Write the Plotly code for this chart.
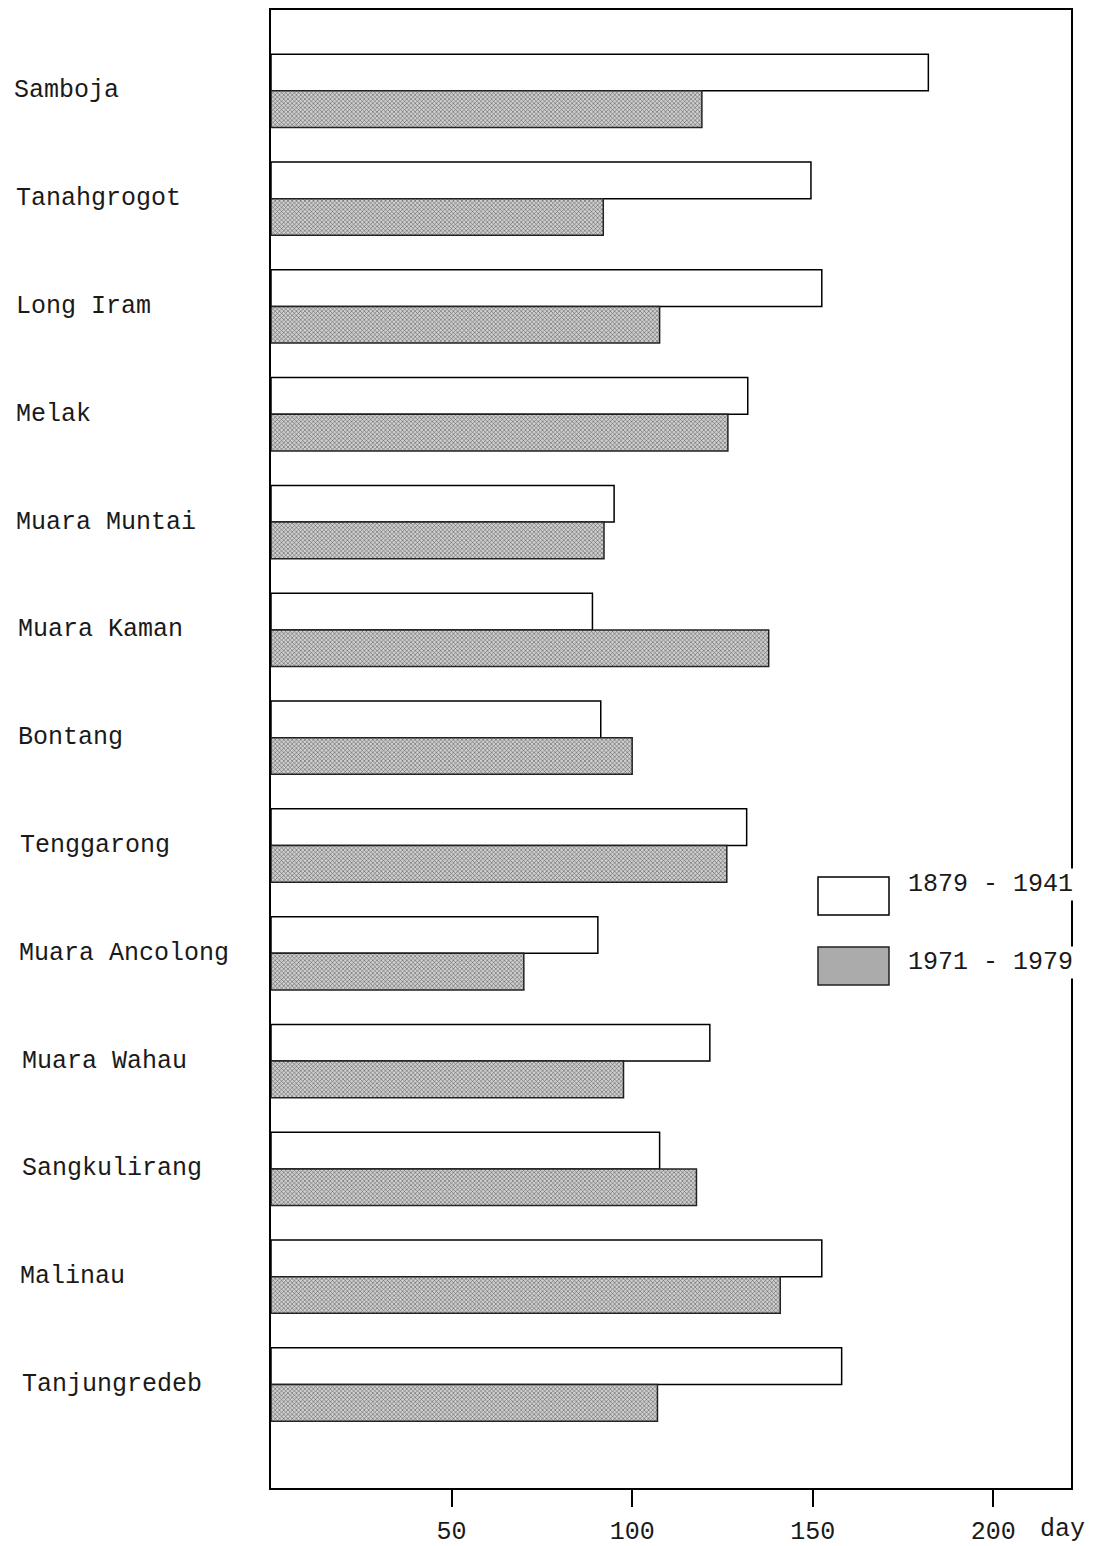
import plotly.graph_objects as go

stations = ["Samboja", "Tanahgrogot", "Long Iram", "Melak", "Muara Muntai",
            "Muara Kaman", "Bontang", "Tenggarong", "Muara Ancolong",
            "Muara Wahau", "Sangkulirang", "Malinau", "Tanjungredeb"]
days_1879_1941 = [182, 149.5, 152.5, 132, 95, 89, 91.3, 131.7, 90.5, 121.5, 107.6, 152.5, 158]
days_1971_1979 = [119.3, 92, 107.6, 126.5, 92.2, 137.8, 100, 126.2, 70, 97.6, 117.8, 141, 107]
series_names = ["1879 - 1941", "1971 - 1979"]
tick_values = [50, 100, 150, 200]
x_unit = "day"

W, H = 1119, 1546
L, R, T, B = 271, 1071, 10, 1488  # plot frame in screen pixels
FONT = "Liberation Mono"
TXT = "#1a1a1a"

def px(x):
    return (x - L) / (R - L)

def py(y):
    return (B - y) / (B - T)

fig = go.Figure()
fig.add_trace(go.Bar(
    y=stations, x=days_1879_1941, orientation="h", name=series_names[0],
    marker=dict(color="white", line=dict(color="black", width=1.5)),
    showlegend=False,
))
fig.add_trace(go.Bar(
    y=stations, x=days_1971_1979, orientation="h", name=series_names[1],
    marker=dict(color="#b4b4b4", line=dict(color="#222", width=1.5),
                pattern=dict(shape="x", size=3, solidity=0.3,
                             fgcolor="#4a4a4a", bgcolor="#cfcfcf", fillmode="replace")),
    showlegend=False,
))

label_x = [12, 14, 14, 14, 14, 16, 16, 18, 17, 20, 20, 18, 20]
annotations = []
for s, lx in zip(stations, label_x):
    annotations.append(dict(
        x=px(lx), xref="paper", y=s, yref="y", text=s, showarrow=False,
        xanchor="left", yanchor="middle", font=dict(family=FONT, size=25, color=TXT),
    ))
annotations.append(dict(
    x=px(1038), xref="paper", y=py(1529), yref="paper", text=x_unit, showarrow=False,
    xanchor="left", yanchor="middle", font=dict(family=FONT, size=25, color=TXT),
))

# legend boxes
shapes = [
    dict(type="rect", xref="paper", yref="paper", x0=px(818), x1=px(889),
         y0=py(915), y1=py(877), line=dict(color="black", width=1.5), fillcolor="white"),
    dict(type="rect", xref="paper", yref="paper", x0=px(818), x1=px(889),
         y0=py(985), y1=py(947), line=dict(color="#222", width=1.5), fillcolor="#ababab"),
]
for name, yc in zip(series_names, [885, 962]):
    annotations.append(dict(
        x=px(906), xref="paper", y=py(yc), yref="paper", text=name, showarrow=False,
        xanchor="left", yanchor="middle", bgcolor="white",
        font=dict(family=FONT, size=25, color=TXT),
    ))

fig.update_layout(
    width=W, height=H,
    margin=dict(l=L, r=W - R, t=T, b=H - B, pad=0, autoexpand=False),
    paper_bgcolor="white", plot_bgcolor="white",
    barmode="group", bargap=0.32, bargroupgap=0,
    annotations=annotations, shapes=shapes,
    font=dict(family=FONT, size=25, color=TXT),
)
fig.update_xaxes(
    range=[0, 221.5], tickvals=tick_values, ticks="outside", ticklen=17,
    tickwidth=2, tickcolor="black", showgrid=False, zeroline=False,
    showline=True, linecolor="black", linewidth=2, mirror=True,
    automargin=False, ticklabelstandoff=2,
    tickfont=dict(family=FONT, size=25, color=TXT),
)
fig.update_yaxes(
    type="category", categoryorder="array", categoryarray=stations,
    range=[12.96, -0.75], showticklabels=False, ticks="",
    showgrid=False, zeroline=False, automargin=False,
    showline=True, linecolor="black", linewidth=2, mirror=True,
)

fig.write_html(
    "out.html",
    config={"displayModeBar": False},
    post_script="document.body.style.margin='0';document.documentElement.style.overflow='hidden';",
)
